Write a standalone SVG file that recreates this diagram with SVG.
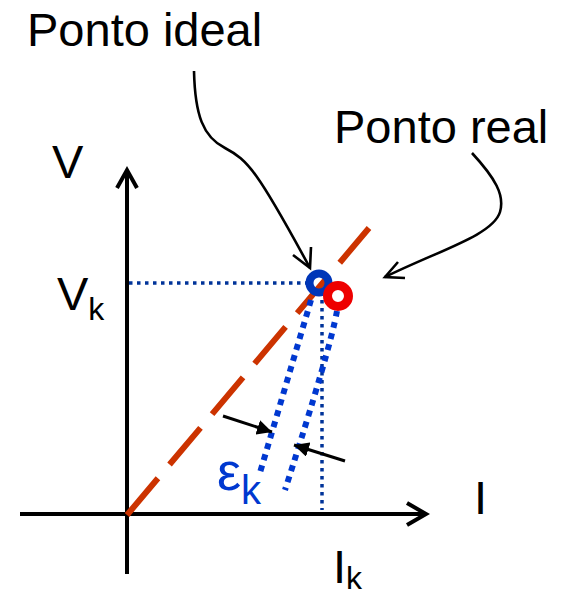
<svg xmlns="http://www.w3.org/2000/svg" width="568" height="596" viewBox="0 0 568 596">
<style>
  text { font-family: "Liberation Sans", Arial, sans-serif; fill: #000; }
  .lbl { font-size: 47px; }
  .sub { font-size: 32px; }
  .axis { stroke: #000; stroke-width: 4; fill: none; }
  .ptr { stroke: #000; stroke-width: 2.6; fill: none; }
  .thin { stroke: #003399; stroke-width: 3.5; stroke-dasharray: 3.5 4.5; fill: none; }
  .thick { stroke: #0038d0; stroke-width: 6; stroke-dasharray: 6 5.5; fill: none; }
  .blk { stroke: #000; stroke-width: 3; fill: none; }
</style>
<defs>
  <marker id="fill" viewBox="0 0 10 10" refX="10" refY="5" markerWidth="5" markerHeight="5" orient="auto" markerUnits="strokeWidth">
    <path d="M0,0 L10,5 L0,10 Z" fill="#000"/>
  </marker>
</defs>

<g id="axes">
  <line class="axis" x1="127" y1="170" x2="127" y2="574"/>
  <polyline class="axis" points="117,188 127,170 137,188"/>
  <line class="axis" x1="20" y1="514" x2="426" y2="514"/>
  <polyline class="axis" points="407,503 426,514 407,525"/>
</g>

<g id="ideal-line">
  <line x1="127" y1="515" x2="369" y2="228" stroke="#cc3300" stroke-width="6" stroke-dasharray="48 18"/>
</g>

<g id="connectors">
  <line class="thin" x1="129" y1="283" x2="308" y2="283"/>
  <line class="thin" x1="322" y1="292" x2="322" y2="510"/>
  <line class="thick" x1="311" y1="300" x2="259" y2="476"/>
  <path class="thick" d="M337,311 Q330,350 285,490"/>
  <line class="blk" x1="223" y1="416" x2="272" y2="432" marker-end="url(#fill)"/>
  <line class="blk" x1="345" y1="461" x2="294" y2="445" marker-end="url(#fill)"/>
  <path class="ptr" d="M194,71 C195,115 203,137 225,148 C248,160 258,172 310,268"/>
  <polyline class="ptr" points="293,255 310,268 311,247"/>
  <path class="ptr" d="M472,153 C495,178 505,195 500,212 C493,235 440,250 385,277"/>
  <polyline class="ptr" points="398,262 385,277 405,278"/>
</g>

<g id="ideal-point">
  <circle cx="319" cy="283" r="9.5" fill="none" stroke="#0036b8" stroke-width="8"/>
</g>
<g id="real-point">
  <circle cx="338" cy="296" r="10.5" fill="none" stroke="#ee0000" stroke-width="9"/>
</g>

<g id="labels">
  <text class="lbl" x="27" y="46">Ponto ideal</text>
  <text class="lbl" x="334" y="143">Ponto real</text>
  <text class="lbl" x="52" y="178">V</text>
  <text class="lbl" x="57" y="310">V<tspan class="sub" dy="10">k</tspan></text>
  <text class="lbl" x="474" y="514">I</text>
  <text class="lbl" x="333" y="583">I<tspan class="sub" dy="6">k</tspan></text>
  <text x="217" y="490" style="font-size:54px;fill:#0038d0">ε<tspan dy="14" style="font-size:40px">k</tspan></text>
</g>
</svg>
